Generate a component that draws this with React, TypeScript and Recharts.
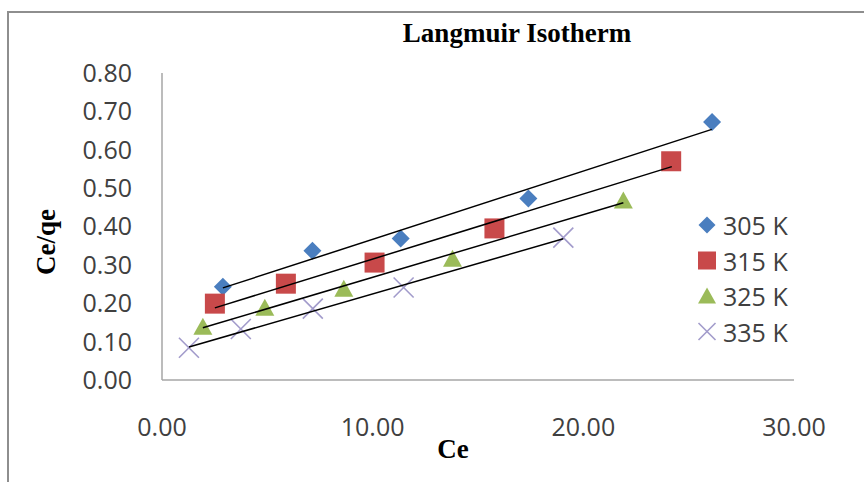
import React from 'react';
import { ScatterChart, Scatter, XAxis, YAxis } from 'recharts';

const seriesNames = ['305 K', '315 K', '325 K', '335 K'];

const ce305 = [2.89, 7.14, 11.33, 17.39, 26.11];
const q305 = [0.243, 0.337, 0.369, 0.473, 0.672];
const ce315 = [2.51, 5.88, 10.09, 15.78, 24.17];
const q315 = [0.199, 0.251, 0.306, 0.395, 0.57];
const ce325 = [1.94, 4.88, 8.63, 13.79, 21.9];
const q325 = [0.139, 0.188, 0.238, 0.316, 0.468];
const ce335 = [1.28, 3.74, 7.16, 11.47, 19.05];
const q335 = [0.084, 0.133, 0.186, 0.241, 0.371];

// linear trendline end points
const trendCe305 = [2.89, 26.1];
const trendQ305 = [0.24, 0.653];
const trendCe315 = [2.51, 24.2];
const trendQ315 = [0.188, 0.556];
const trendCe325 = [1.94, 21.9];
const trendQ325 = [0.136, 0.462];
const trendCe335 = [1.28, 19.05];
const trendQ335 = [0.086, 0.368];

const xTicks = [0, 10, 20, 30];
const yTicks = [0, 0.1, 0.2, 0.3, 0.4, 0.5, 0.6, 0.7, 0.8];

const zip = (xs: number[], ys: number[]) => xs.map((x, i) => ({ x, y: ys[i] }));

const d305 = zip(ce305, q305);
const d315 = zip(ce315, q315);
const d325 = zip(ce325, q325);
const d335 = zip(ce335, q335);
const t305 = zip(trendCe305, trendQ305);
const t315 = zip(trendCe315, trendQ315);
const t325 = zip(trendCe325, trendQ325);
const t335 = zip(trendCe335, trendQ335);

const BLUE = '#4a7ebf';
const RED = '#c8494a';
const GREEN = '#9bbb59';
const PURPLE = '#a29bcb';

const Diamond = ({ cx, cy, r = 9 }: any) => (
  <path d={`M${cx},${cy - r}L${cx + r},${cy}L${cx},${cy + r}L${cx - r},${cy}Z`} fill={BLUE} />
);
const Square = ({ cx, cy, r = 10 }: any) => (
  <rect x={cx - r} y={cy - r} width={2 * r} height={2 * r} fill={RED} />
);
const Triangle = ({ cx, cy, r = 9 }: any) => (
  <path d={`M${cx},${cy - r}L${cx + r + 0.5},${cy + r - 1}L${cx - r - 0.5},${cy + r - 1}Z`} fill={GREEN} />
);
const Cross = ({ cx, cy, r = 10 }: any) => (
  <g stroke={PURPLE} strokeWidth={1.6}>
    <line x1={cx - r} y1={cy - r} x2={cx + r} y2={cy + r} />
    <line x1={cx - r} y1={cy + r} x2={cx + r} y2={cy - r} />
  </g>
);
const NoShape = () => <g />;

const markers = [Diamond, Square, Triangle, Cross];
const sans = "'Open Sans', 'Noto Sans', sans-serif";
const serif = "'Liberation Serif', 'DejaVu Serif', serif";

export default function App() {
  return (
    <div style={{ position: 'absolute', left: 0, top: 0, width: 864, height: 482, overflow: 'hidden', background: '#fff' }}>
      <div
        style={{
          position: 'absolute',
          left: 7,
          top: 11,
          width: 900,
          height: 500,
          borderLeft: '2px solid #8e8e8e',
          borderTop: '2px solid #8e8e8e',
        }}
      />
      <div style={{ position: 'absolute', left: 0, top: 0 }}>
        <ScatterChart width={864} height={482} margin={{ top: 73, right: 70, bottom: 42, left: 62 }}>
          <XAxis
            type="number"
            dataKey="x"
            domain={[0, 30]}
            ticks={xTicks}
            tickFormatter={(v: number) => v.toFixed(2)}
            axisLine={{ stroke: '#a6a6a6', strokeWidth: 1.5 }}
            tickLine={false}
            tickSize={0}
            tickMargin={38}
            height={60}
            tick={{ fontSize: 25, fill: '#404040', fontFamily: sans }}
            label={{
              content: () => (
                <text x={453} y={458} textAnchor="middle" fontFamily={serif} fontWeight="bold" fontSize={27} fill="#000">
                  Ce
                </text>
              ),
            }}
          />
          <YAxis
            type="number"
            dataKey="y"
            domain={[0, 0.8]}
            ticks={yTicks}
            tickFormatter={(v: number) => v.toFixed(2)}
            axisLine={{ stroke: '#a6a6a6', strokeWidth: 1.5 }}
            tickLine={false}
            tickSize={0}
            tickMargin={30}
            width={100}
            tick={{ fontSize: 25, fill: '#404040', fontFamily: sans }}
            label={{
              content: () => (
                <text
                  x={0}
                  y={0}
                  transform="translate(55,242) rotate(-90)"
                  textAnchor="middle"
                  fontFamily={serif}
                  fontWeight="bold"
                  fontSize={27}
                  fill="#000"
                >
                  Ce/qe
                </text>
              ),
            }}
          />
          <Scatter name={seriesNames[0]} data={d305} shape={<Diamond />} isAnimationActive={false} />
          <Scatter name={seriesNames[1]} data={d315} shape={<Square />} isAnimationActive={false} />
          <Scatter name={seriesNames[2]} data={d325} shape={<Triangle />} isAnimationActive={false} />
          <Scatter name={seriesNames[3]} data={d335} shape={<Cross />} isAnimationActive={false} />
          <Scatter data={t305} shape={<NoShape />} line={{ stroke: '#000', strokeWidth: 1.5 }} legendType="none" isAnimationActive={false} />
          <Scatter data={t315} shape={<NoShape />} line={{ stroke: '#000', strokeWidth: 1.5 }} legendType="none" isAnimationActive={false} />
          <Scatter data={t325} shape={<NoShape />} line={{ stroke: '#000', strokeWidth: 1.5 }} legendType="none" isAnimationActive={false} />
          <Scatter data={t335} shape={<NoShape />} line={{ stroke: '#000', strokeWidth: 1.5 }} legendType="none" isAnimationActive={false} />
        </ScatterChart>
      </div>
      <svg width={864} height={482} style={{ position: 'absolute', left: 0, top: 0, pointerEvents: 'none' }}>
        <text x={517} y={42} textAnchor="middle" fontFamily={serif} fontWeight="bold" fontSize={27} fill="#000">
          Langmuir Isotherm
        </text>
        {seriesNames.map((name, i) => {
          const M = markers[i];
          const cy = 225 + i * 35.5;
          return (
            <g key={name}>
              <M cx={707} cy={cy} r={i === 1 ? 9 : 8.5} />
              <text x={723} y={cy} dominantBaseline="central" fontFamily={sans} fontSize={25} fill="#404040">
                {name}
              </text>
            </g>
          );
        })}
      </svg>
    </div>
  );
}
